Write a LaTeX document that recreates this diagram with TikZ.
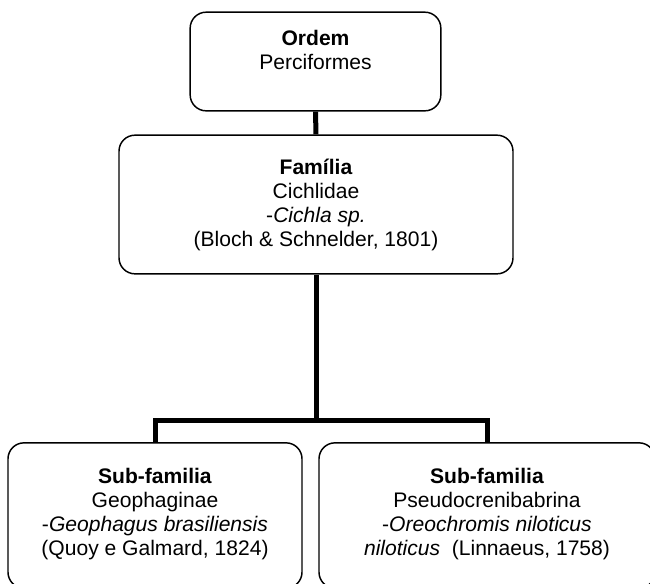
\documentclass[tikz,border=0pt]{standalone}
\usepackage{fontspec}
\setmainfont{Liberation Sans}
\usepackage{tikz}
\usetikzlibrary{positioning}
\tikzset{
    taxon/.style={rectangle, rounded corners=12pt, draw=black, line width=1.1pt, inner sep=0pt, align=center, font=\fontsize{15.8}{18}\selectfont},
    link/.style={line width=3.75pt, line join=miter}
}
\begin{document}
\begin{tikzpicture}[
        x=0.75pt, y=-0.75pt % one unit per pixel of the reference
    ]
        \useasboundingbox (0,0) rectangle (650,583);
        % Nodes
        \node[taxon, minimum width=188pt, minimum height=74pt, text depth=18pt] (ordem) at (315.5,61.5) {\textbf{Ordem}\\Perciformes};
        \node[taxon, minimum width=295.5pt, minimum height=104pt] (familia) at (316,204.5) {\textbf{Família}\\Cichlidae\\-\textit{Cichla sp.}\\(Bloch \& Schnelder, 1801)};
        \node[taxon, minimum width=220.5pt, minimum height=109pt, text depth=5pt] (geo) at (155,515.5) {\textbf{Sub-familia}\\Geophaginae\\-\textit{Geophagus brasiliensis}\\(Quoy e Galmard, 1824)};
        \node[taxon, minimum width=252pt, minimum height=109pt, text depth=5pt] (oreo) at (487,515.5) {\textbf{Sub-familia}\\Pseudocrenibabrina\\-\textit{Oreochromis niloticus}\\\textit{niloticus}\ \ (Linnaeus, 1758)};
        \coordinate (split) at (316,420);

        % Lines
        \draw[link] (ordem.south) -- (familia.north);
        \draw[link] (familia.south) -- (split);
        \draw[link] (geo.north) |- (split) -| (oreo.north);
    \end{tikzpicture}
\end{document}
